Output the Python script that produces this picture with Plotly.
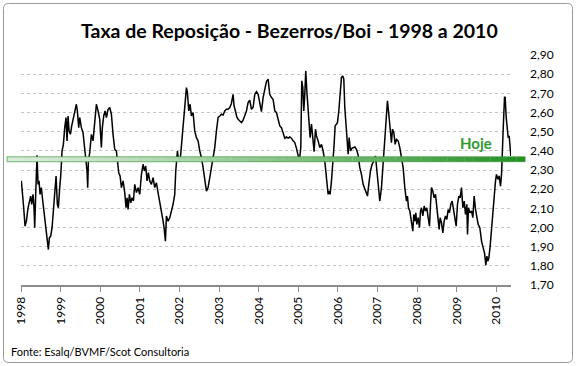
import plotly.graph_objects as go

# ---- data (decimal year, ratio) ----
years = [
1998.009,1998.035,1998.068,1998.102,1998.136,1998.178,1998.220,1998.245,1998.270,1998.304,1998.329,1998.346,1998.371,1998.388,1998.405,1998.430,1998.455,1998.481,1998.514,1998.540,1998.573,1998.607,1998.641,1998.666,1998.691,1998.716,1998.750,1998.784,1998.817,1998.851,1998.885,1998.918,1998.944,1998.977,
1999.003,1999.036,1999.070,1999.104,1999.137,1999.162,1999.188,1999.213,1999.247,1999.280,1999.314,1999.356,1999.398,1999.423,1999.457,1999.482,1999.524,1999.566,1999.609,1999.642,1999.667,1999.684,1999.701,1999.735,1999.777,1999.819,1999.861,1999.903,1999.945,1999.987,
2000.029,2000.054,2000.088,2000.122,2000.156,2000.198,2000.240,2000.282,2000.324,2000.366,2000.408,2000.442,2000.467,2000.501,2000.535,2000.577,2000.619,2000.652,2000.678,2000.703,2000.737,2000.770,2000.804,2000.838,2000.871,2000.914,2000.955,2000.997,
2001.040,2001.082,2001.116,2001.149,2001.183,2001.216,2001.250,2001.292,2001.334,2001.376,2001.418,2001.460,2001.503,2001.545,2001.587,2001.612,2001.646,2001.671,2001.713,2001.755,2001.797,2001.839,2001.881,2001.907,2001.949,2001.982,
2002.024,2002.058,2002.092,2002.134,2002.176,2002.201,2002.235,2002.268,2002.302,2002.344,2002.386,2002.429,2002.471,2002.513,2002.555,2002.597,2002.639,2002.681,2002.723,2002.765,2002.807,2002.849,2002.891,2002.934,2002.976,
2003.018,2003.060,2003.102,2003.144,2003.186,2003.228,2003.270,2003.312,2003.354,2003.379,2003.413,2003.447,2003.481,2003.523,2003.565,2003.607,2003.649,2003.691,2003.733,2003.775,2003.817,2003.859,2003.902,2003.944,2003.986,
2004.028,2004.070,2004.112,2004.154,2004.196,2004.238,2004.280,2004.322,2004.364,2004.407,2004.449,2004.491,2004.533,2004.575,2004.617,2004.659,2004.701,2004.743,2004.785,2004.827,2004.869,2004.912,2004.954,2004.996,
2005.029,2005.063,2005.088,2005.114,2005.139,2005.164,2005.189,2005.215,2005.240,2005.265,2005.299,2005.333,2005.366,2005.400,2005.434,2005.459,2005.501,2005.543,2005.585,2005.627,2005.669,2005.711,2005.753,2005.778,2005.804,2005.838,2005.880,2005.905,2005.930,2005.964,2005.989,
2006.023,2006.056,2006.090,2006.124,2006.149,2006.174,2006.216,2006.259,2006.284,2006.318,2006.351,2006.385,2006.427,2006.469,2006.511,2006.553,2006.595,2006.637,2006.679,2006.721,2006.747,2006.780,2006.822,2006.864,2006.907,2006.949,2006.982,
2007.016,2007.058,2007.100,2007.142,2007.184,2007.217,2007.251,2007.285,2007.319,2007.352,2007.378,2007.412,2007.445,2007.479,2007.521,2007.563,2007.605,2007.647,2007.689,2007.731,2007.756,2007.782,2007.816,2007.841,2007.866,2007.891,2007.917,2007.942,2007.967,2007.992,
2008.026,2008.059,2008.085,2008.110,2008.144,2008.178,2008.211,2008.245,2008.279,2008.312,2008.338,2008.363,2008.396,2008.430,2008.464,2008.497,2008.531,2008.556,2008.581,2008.615,2008.649,2008.682,2008.716,2008.750,2008.784,2008.817,2008.851,2008.885,2008.918,2008.952,2008.986,
2009.019,2009.053,2009.087,2009.120,2009.154,2009.188,2009.221,2009.255,2009.272,2009.297,2009.331,2009.373,2009.407,2009.440,2009.474,2009.508,2009.541,2009.583,2009.626,2009.668,2009.701,2009.735,2009.760,2009.785,2009.811,2009.844,2009.878,2009.912,2009.945,2009.979,
2010.004,2010.038,2010.071,2010.105,2010.131,2010.156,2010.181,2010.207,2010.223,2010.249,2010.274,2010.299,2010.324,2010.350,2010.366]

ratio = [
2.243,2.190,2.103,2.007,2.033,2.103,2.138,2.164,2.121,2.173,2.103,1.999,2.173,2.243,2.377,2.225,2.243,2.173,2.208,2.155,2.086,2.016,1.964,1.929,1.885,1.946,1.955,1.999,2.086,2.208,2.269,2.121,2.103,2.208,
2.269,2.399,2.434,2.521,2.574,2.452,2.582,2.504,2.486,2.530,2.565,2.591,2.643,2.608,2.521,2.574,2.521,2.495,2.399,2.364,2.295,2.208,2.347,2.391,2.486,2.452,2.556,2.643,2.608,2.565,
2.417,2.521,2.582,2.608,2.574,2.617,2.626,2.591,2.486,2.408,2.399,2.312,2.286,2.269,2.208,2.243,2.182,2.103,2.155,2.094,2.173,2.129,2.155,2.138,2.225,2.182,2.208,2.173,
2.277,2.330,2.295,2.321,2.243,2.286,2.243,2.225,2.260,2.208,2.234,2.182,2.138,2.086,2.033,1.999,1.929,2.060,2.033,2.051,2.086,2.121,2.173,2.295,2.399,2.347,
2.364,2.443,2.504,2.608,2.730,2.704,2.608,2.643,2.582,2.600,2.504,2.469,2.452,2.399,2.364,2.312,2.260,2.190,2.208,2.260,2.330,2.373,2.417,2.504,2.574,
2.582,2.591,2.587,2.608,2.617,2.617,2.626,2.647,2.695,2.634,2.608,2.577,2.565,2.556,2.547,2.560,2.582,2.608,2.652,2.664,2.617,2.626,2.695,2.709,2.695,
2.652,2.605,2.678,2.730,2.762,2.774,2.695,2.678,2.669,2.608,2.600,2.565,2.530,2.521,2.495,2.466,2.472,2.466,2.472,2.466,2.452,2.443,2.413,2.373,
2.347,2.417,2.765,2.730,2.608,2.695,2.817,2.713,2.643,2.582,2.469,2.539,2.478,2.396,2.513,2.478,2.452,2.417,2.434,2.399,2.347,2.260,2.173,2.190,2.173,2.243,2.347,2.434,2.530,2.539,2.547,
2.608,2.704,2.783,2.791,2.774,2.626,2.521,2.382,2.469,2.399,2.413,2.417,2.420,2.408,2.378,2.312,2.277,2.225,2.199,2.173,2.164,2.225,2.295,2.330,2.347,2.373,2.295,
2.234,2.138,2.208,2.330,2.469,2.574,2.661,2.591,2.521,2.443,2.513,2.495,2.434,2.460,2.452,2.417,2.364,2.312,2.208,2.138,2.164,2.103,2.086,2.051,1.999,1.981,2.068,2.033,2.077,2.016,
2.051,1.999,2.086,2.103,2.060,2.112,2.086,2.103,2.051,2.007,2.121,2.208,2.190,2.155,2.173,2.103,2.033,1.990,2.051,2.025,1.972,2.033,2.060,2.042,2.094,2.077,2.121,2.138,2.094,2.051,2.007,
2.121,2.164,2.155,2.208,2.103,2.138,2.068,2.121,1.964,2.103,2.077,2.086,2.051,2.164,2.094,2.051,2.016,1.999,1.929,1.894,1.868,1.803,1.851,1.824,1.842,1.903,1.999,2.103,2.173,2.243,
2.277,2.251,2.269,2.216,2.277,2.382,2.556,2.682,2.678,2.574,2.521,2.469,2.478,2.417,2.373]

tick_years = list(range(1998, 2011))
tick_labels = [str(y) for y in tick_years]
y_ticks = [1.70, 1.80, 1.90, 2.00, 2.10, 2.20, 2.30, 2.40, 2.50, 2.60, 2.70, 2.80, 2.90]
hoje_level = 2.356

title_text = "Taxa de Reposição - Bezerros/Boi - 1998 a 2010"
source_text = "Fonte: Esalq/BVMF/Scot Consultoria"

# ---- layout geometry ----
W, H = 576, 366
L, R, T, B = 21, 65, 55, 81
PW, PH = W - L - R, H - T - B

def px(x):
    return (x - L) / PW

def py(y):
    return (H - B - y) / PH

FONT = "Lato, Carlito, 'Open Sans', sans-serif"

fig = go.Figure()
fig.add_trace(go.Scatter(x=years, y=ratio, mode="lines",
                         line=dict(color="black", width=1.5),
                         hoverinfo="skip", showlegend=False))

shapes = []
# outer frame with rounded corners
fx0, fx1, fy0, fy1, rr = 3.5, 572.5, 3.5, 362.5, 5
frame_path = (
    f"M {px(fx0 + rr)},{py(fy0)} L {px(fx1 - rr)},{py(fy0)} "
    f"Q {px(fx1)},{py(fy0)} {px(fx1)},{py(fy0 + rr)} "
    f"L {px(fx1)},{py(fy1 - rr)} Q {px(fx1)},{py(fy1)} {px(fx1 - rr)},{py(fy1)} "
    f"L {px(fx0 + rr)},{py(fy1)} Q {px(fx0)},{py(fy1)} {px(fx0)},{py(fy1 - rr)} "
    f"L {px(fx0)},{py(fy0 + rr)} Q {px(fx0)},{py(fy0)} {px(fx0 + rr)},{py(fy0)} Z"
)
shapes.append(dict(type="path", xref="paper", yref="paper", path=frame_path,
                   line=dict(color="#9a9a9a", width=1), fillcolor="rgba(0,0,0,0)",
                   layer="below"))

# green "Hoje" bar with left-to-right gradient
n = 60
xa, xb = 7, 525
c0 = (215, 235, 215)
c1 = (34, 145, 34)
for i in range(n):
    t = i / (n - 1)
    t2 = t ** 1.3
    c = tuple(int(c0[k] + (c1[k] - c0[k]) * t2) for k in range(3))
    shapes.append(dict(type="rect", xref="paper", yref="y",
                       x0=px(xa + (xb - xa) * i / n), x1=px(xa + (xb - xa) * (i + 1) / n) + 0.0005,
                       y0=hoje_level - 0.013, y1=hoje_level + 0.013,
                       line=dict(width=0), fillcolor="rgb(%d,%d,%d)" % c, layer="above"))
# thin border of bar
shapes.append(dict(type="rect", xref="paper", yref="y",
                   x0=px(xa), x1=px(xb), y0=hoje_level - 0.013, y1=hoje_level + 0.013,
                   line=dict(color="rgba(60,150,60,0.85)", width=0.8),
                   fillcolor="rgba(0,0,0,0)", layer="above"))

annotations = [
    dict(text=title_text, xref="paper", yref="paper", x=px(289), y=py(31),
         xanchor="center", yanchor="middle", showarrow=False,
         font=dict(family=FONT, size=19.5, color="black", weight="bold")),
    dict(text=source_text, xref="paper", yref="paper", x=px(9), y=py(352),
         xanchor="left", yanchor="middle", showarrow=False,
         font=dict(family=FONT, size=11, color="black")),
    dict(text="<b>Hoje</b>", xref="paper", yref="paper", x=px(476), y=py(143),
         xanchor="center", yanchor="middle", showarrow=False,
         font=dict(family=FONT, size=15, color="#2e9a2e")),
]

fig.update_layout(
    width=W, height=H,
    margin=dict(l=L, r=R, t=T, b=B, pad=0),
    paper_bgcolor="white", plot_bgcolor="white",
    separators=",.",
    font=dict(family=FONT, size=12, color="black"),
    shapes=shapes, annotations=annotations,
    showlegend=False,
    xaxis=dict(range=[1998, 2010.37], tickmode="array", tickvals=tick_years,
               ticktext=tick_labels, tickangle=-90, ticks="outside", ticklen=5,
               tickcolor="#8c8c8c", tickwidth=1, showgrid=False, zeroline=False,
               showline=True, linecolor="#8c8c8c", linewidth=2,
               tickfont=dict(family=FONT, size=12, color="black")),
    yaxis=dict(range=[1.70, 2.90], side="right", tickmode="array", tickvals=y_ticks,
               tickformat=".2f", showgrid=True, gridcolor="#c4c4c4", griddash="dot",
               gridwidth=1, zeroline=False, showline=False, ticks="",
               ticklabelstandoff=18,
               tickfont=dict(family=FONT, size=12, color="black")),
)

fig.write_html("out.html", config={"displayModeBar": False},
               post_script="document.body.style.margin='0';document.body.style.overflow='hidden';")
